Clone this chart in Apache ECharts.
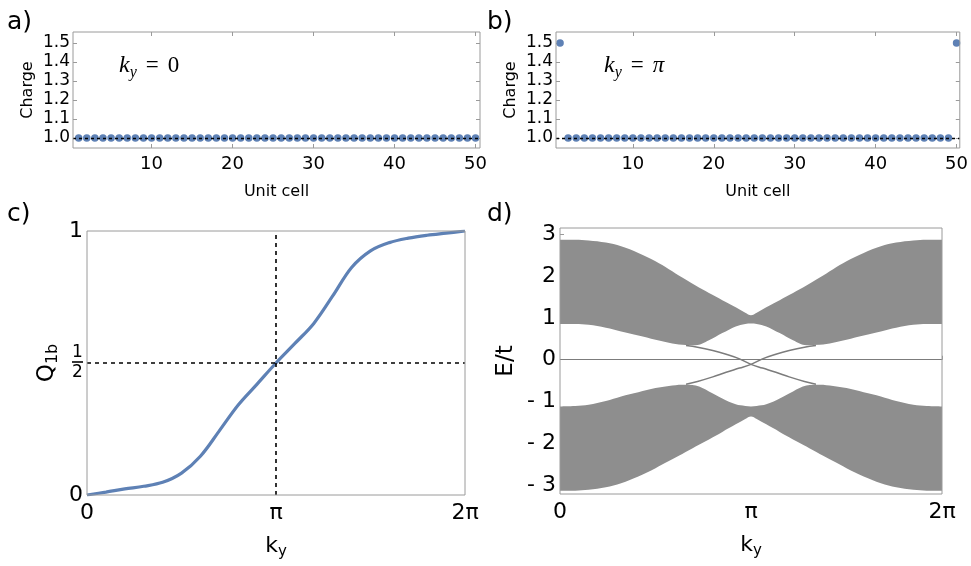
<!DOCTYPE html>
<html>
<head>
<meta charset="utf-8">
<script src="https://cdn.jsdelivr.net/npm/echarts@6.0.0/dist/echarts.min.js"></script>
<style>
  html, body { margin: 0; padding: 0; background: #fff; }
  #chart { width: 971px; height: 566px; }
</style>
</head>
<body>
<div id="chart"></div>
<script>
// --- data ---
// a) / b) charge per unit cell
const cellIndex = [1, 2, 3, 4, 5, 6, 7, 8, 9, 10, 11, 12, 13, 14, 15, 16, 17, 18, 19, 20,
  21, 22, 23, 24, 25, 26, 27, 28, 29, 30, 31, 32, 33, 34, 35, 36, 37, 38, 39, 40,
  41, 42, 43, 44, 45, 46, 47, 48, 49, 50];
const chargeKy0 = [1.0, 1.0, 1.0, 1.0, 1.0, 1.0, 1.0, 1.0, 1.0, 1.0, 1.0, 1.0, 1.0, 1.0, 1.0, 1.0, 1.0, 1.0, 1.0, 1.0,
  1.0, 1.0, 1.0, 1.0, 1.0, 1.0, 1.0, 1.0, 1.0, 1.0, 1.0, 1.0, 1.0, 1.0, 1.0, 1.0, 1.0, 1.0, 1.0, 1.0,
  1.0, 1.0, 1.0, 1.0, 1.0, 1.0, 1.0, 1.0, 1.0, 1.0];
const chargeKyPi = [1.5, 1.0, 1.0, 1.0, 1.0, 1.0, 1.0, 1.0, 1.0, 1.0, 1.0, 1.0, 1.0, 1.0, 1.0, 1.0, 1.0, 1.0, 1.0, 1.0,
  1.0, 1.0, 1.0, 1.0, 1.0, 1.0, 1.0, 1.0, 1.0, 1.0, 1.0, 1.0, 1.0, 1.0, 1.0, 1.0, 1.0, 1.0, 1.0, 1.0,
  1.0, 1.0, 1.0, 1.0, 1.0, 1.0, 1.0, 1.0, 1.0, 1.5];
const chargeTicks = [1.0, 1.1, 1.2, 1.3, 1.4, 1.5];
const cellTicks = [10, 20, 30, 40, 50];

// c) Q_1b vs k_y  (k in units of pi)
const kQ = [0, 0.1, 0.2, 0.3, 0.4, 0.5, 0.6, 0.7, 0.8, 0.9, 1.0,
  1.1, 1.2, 1.3, 1.4, 1.5, 1.6, 1.7, 1.8, 1.9, 2.0];
const q1b = [0, 0.011, 0.023, 0.033, 0.048, 0.083, 0.147, 0.243, 0.341, 0.42, 0.5,
  0.574, 0.65, 0.754, 0.862, 0.925, 0.956, 0.973, 0.984, 0.992, 1.0];
const qTicks = [0, 0.5, 1];
const kTicks = [0, 1, 2];
const kTickLabels = ['0', 'π', '2π'];

// d) spectrum: band envelopes and edge states (k in units of pi)
const kBand = [0, 0.08, 0.15, 0.24, 0.32, 0.41, 0.5, 0.57, 0.64, 0.71, 0.78, 0.85, 0.92, 0.97, 1.0,
  1.03, 1.08, 1.15, 1.22, 1.29, 1.36, 1.43, 1.5, 1.59, 1.68, 1.76, 1.85, 1.92, 2.0];
const upperTop = [2.88, 2.88, 2.86, 2.81, 2.72, 2.56, 2.36, 2.17, 1.97, 1.78, 1.60, 1.43, 1.26, 1.13, 1.07,
  1.13, 1.26, 1.43, 1.60, 1.78, 1.97, 2.17, 2.36, 2.56, 2.72, 2.81, 2.86, 2.88, 2.88];
const upperBottom = [0.86, 0.86, 0.84, 0.77, 0.68, 0.58, 0.48, 0.41, 0.36, 0.35, 0.47, 0.64, 0.80, 0.86, 0.87,
  0.86, 0.80, 0.64, 0.47, 0.35, 0.36, 0.41, 0.48, 0.58, 0.68, 0.77, 0.84, 0.86, 0.86];
const lowerTop = [-1.12, -1.11, -1.08, -0.99, -0.88, -0.78, -0.68, -0.63, -0.60, -0.62, -0.76, -0.93, -1.07, -1.11, -1.12,
  -1.11, -1.07, -0.93, -0.76, -0.62, -0.60, -0.63, -0.68, -0.78, -0.88, -0.99, -1.08, -1.11, -1.12];
const lowerBottom = [-3.14, -3.14, -3.12, -3.06, -2.96, -2.80, -2.60, -2.43, -2.26, -2.08, -1.91, -1.73, -1.55, -1.42, -1.36,
  -1.42, -1.55, -1.73, -1.91, -2.08, -2.26, -2.43, -2.60, -2.80, -2.96, -3.06, -3.12, -3.14, -3.14];
const kEdge = [0.66, 0.72, 0.8, 0.87, 0.94, 1.0, 1.06, 1.13, 1.2, 1.28, 1.34];
const edgeA = [0.34, 0.3, 0.22, 0.13, 0.02, -0.11, -0.2, -0.3, -0.41, -0.52, -0.59];
const edgeB = [-0.59, -0.52, -0.41, -0.3, -0.2, -0.11, 0.02, 0.13, 0.22, 0.3, 0.34];
const energyTicks = [-3, -2, -1, 0, 1, 2, 3];
const energyLabels = ['- 3', '- 2', '- 1', '0', '1', '2', '3'];

// --- styles ---
const FONT = 'DejaVu Sans';
const MATH = 'Liberation Serif';
const FRAME = '#9a9a9a';
const BLUE = '#5e81b5';
const BAND = '#8e8e8e';

const zip = (xs, ys) => xs.map((x, i) => [x, ys[i]]);

// axis that only carries inside ticks (for the mirrored frame sides)
function tickAxis(gridIndex, position, min, max, ticks) {
  return {
    type: 'value', gridIndex, position, min, max,
    axisLine: { show: false }, splitLine: { show: false },
    axisLabel: { show: false },
    axisTick: { inside: true, length: 4, customValues: ticks, lineStyle: { color: FRAME } }
  };
}

function chargeX(gridIndex, min, max) {
  return {
    type: 'value', gridIndex, min, max,
    axisLine: { show: false }, splitLine: { show: false },
    axisTick: { inside: true, length: 4, customValues: cellTicks, lineStyle: { color: FRAME } },
    axisLabel: { customValues: cellTicks, fontSize: 18, fontFamily: FONT, color: '#000', margin: 7 },
    name: 'Unit cell', nameLocation: 'middle', nameGap: 36,
    nameTextStyle: { fontSize: 16, fontFamily: FONT, color: '#000' }
  };
}

function chargeY(gridIndex) {
  return {
    type: 'value', gridIndex, min: 0.947, max: 1.558,
    axisLine: { show: false }, splitLine: { show: false },
    axisTick: { inside: true, length: 4, customValues: chargeTicks, lineStyle: { color: FRAME } },
    axisLabel: {
      customValues: chargeTicks, fontSize: 17, fontFamily: FONT, color: '#000', margin: 3,
      formatter: v => v.toFixed(1)
    },
    name: 'Charge', nameLocation: 'middle', nameGap: 37,
    nameTextStyle: { fontSize: 16, fontFamily: FONT, color: '#000' }
  };
}

const kyName = '{k|k}{s|y}';
const kyRich = {
  k: { fontSize: 22, fontFamily: FONT, color: '#000', lineHeight: 28 },
  s: { fontSize: 15, fontFamily: FONT, color: '#000', lineHeight: 15, verticalAlign: 'bottom' }
};

function kAxis(gridIndex) {
  return {
    type: 'value', gridIndex, min: 0, max: 2,
    axisLine: { show: false }, splitLine: { show: false },
    axisTick: { show: gridIndex === 3, inside: true, length: 4, customValues: kTicks, lineStyle: { color: FRAME } },
    axisLabel: {
      customValues: kTicks, fontSize: 22, fontFamily: FONT, color: '#000', margin: 7,
      formatter: v => kTickLabels[kTicks.indexOf(v)]
    },
    name: kyName, nameLocation: 'middle', nameGap: 37,
    nameTextStyle: { rich: kyRich }
  };
}

const dashed = { color: '#000', type: [4, 4], width: 1.6 };
const markBase = { symbol: ['none', 'none'], silent: true, animation: false, label: { show: false } };

const mathRich = {
  k: { fontFamily: MATH, fontStyle: 'italic', fontSize: 24, color: '#000', lineHeight: 30 },
  y: { fontFamily: MATH, fontStyle: 'italic', fontSize: 16, color: '#000', lineHeight: 16, verticalAlign: 'bottom' },
  e: { fontFamily: MATH, fontSize: 23, color: '#000', lineHeight: 30, padding: [0, 9, 0, 9] },
  z: { fontFamily: MATH, fontSize: 23, color: '#000', lineHeight: 30 },
  p: { fontFamily: MATH, fontStyle: 'italic', fontSize: 23, color: '#000', lineHeight: 30 }
};

const option = {
  animation: false,
  backgroundColor: '#fff',
  grid: [
    { left: 73, top: 32, width: 407, height: 116, show: true, borderColor: FRAME, borderWidth: 1, z: 10 },
    { left: 556, top: 32, width: 404, height: 116, show: true, borderColor: FRAME, borderWidth: 1, z: 10 },
    { left: 87, top: 231, width: 378, height: 264, show: true, borderColor: FRAME, borderWidth: 1, z: 10 },
    { left: 560, top: 228, width: 382, height: 266, show: true, borderColor: FRAME, borderWidth: 1, z: 10 }
  ],
  xAxis: [
    chargeX(0, 0.3, 50.55),
    tickAxis(0, 'top', 0.3, 50.55, cellTicks),
    chargeX(1, 0.5, 50.4),
    tickAxis(1, 'top', 0.5, 50.4, cellTicks),
    kAxis(2),
    kAxis(3)
  ],
  yAxis: [
    chargeY(0),
    tickAxis(0, 'right', 0.947, 1.558, chargeTicks),
    chargeY(1),
    tickAxis(1, 'right', 0.947, 1.558, chargeTicks),
    {
      type: 'value', gridIndex: 2, min: 0, max: 1,
      axisLine: { show: false }, splitLine: { show: false }, axisTick: { show: false },
      axisLabel: {
        customValues: qTicks, fontSize: 22, fontFamily: FONT, color: '#000', margin: 4,
        formatter: v => (Math.abs(v - 0.5) < 1e-9 ? '{n|1}\n{bar| }\n{d|2}' : String(v)),
        rich: {
          n: { fontSize: 17, fontFamily: FONT, color: '#000', lineHeight: 15, align: 'center' },
          bar: { width: 11, height: 1.6, lineHeight: 4, fontSize: 2, backgroundColor: '#000', align: 'center' },
          d: { fontSize: 17, fontFamily: FONT, color: '#000', lineHeight: 17, align: 'center' }
        }
      },
      name: '{q|Q}{s|1b}', nameLocation: 'middle', nameGap: 26,
      nameTextStyle: {
        rich: {
          q: { fontSize: 23, fontFamily: FONT, color: '#000', lineHeight: 28 },
          s: { fontSize: 16, fontFamily: FONT, color: '#000', lineHeight: 16, verticalAlign: 'bottom' }
        }
      }
    },
    {
      type: 'value', gridIndex: 3, min: -3.22, max: 3.16,
      axisLine: { show: false }, splitLine: { show: false },
      axisTick: { inside: true, length: 4, customValues: energyTicks, lineStyle: { color: FRAME } },
      axisLabel: {
        customValues: energyTicks, fontSize: 22, fontFamily: FONT, color: '#000', margin: 4,
        formatter: v => energyLabels[energyTicks.indexOf(v)]
      },
      name: 'E/t', nameLocation: 'middle', nameGap: 42,
      nameTextStyle: { fontSize: 23, fontFamily: FONT, color: '#000' }
    }
  ],
  series: [
    // a)
    {
      type: 'line', xAxisIndex: 0, yAxisIndex: 0, data: [], z: 1,
      markLine: Object.assign({ lineStyle: { color: '#000', type: [3, 3], width: 1.4 }, data: [{ yAxis: 1 }] }, markBase)
    },
    {
      type: 'scatter', xAxisIndex: 0, yAxisIndex: 0, z: 3,
      data: zip(cellIndex, chargeKy0), symbolSize: 7.5, itemStyle: { color: BLUE, opacity: 1 }
    },
    // b)
    {
      type: 'line', xAxisIndex: 2, yAxisIndex: 2, data: [], z: 1,
      markLine: Object.assign({ lineStyle: { color: '#000', type: [3, 3], width: 1.4 }, data: [{ yAxis: 1 }] }, markBase)
    },
    {
      type: 'scatter', xAxisIndex: 2, yAxisIndex: 2, z: 3,
      data: zip(cellIndex, chargeKyPi), symbolSize: 7.5, itemStyle: { color: BLUE, opacity: 1 }
    },
    // c)
    {
      type: 'line', xAxisIndex: 4, yAxisIndex: 4, data: [], z: 1,
      markLine: Object.assign({ lineStyle: dashed, data: [{ xAxis: 1 }, { yAxis: 0.5 }] }, markBase)
    },
    {
      type: 'line', xAxisIndex: 4, yAxisIndex: 4, z: 3,
      data: zip(kQ, q1b), smooth: 0.35, symbol: 'none',
      lineStyle: { color: BLUE, width: 3.2 }
    },
    // d) bands: grey fill under each top edge, white fill under each bottom edge
    {
      type: 'line', xAxisIndex: 5, yAxisIndex: 5, z: 2, data: zip(kBand, upperTop), smooth: 0.35, symbol: 'none',
      lineStyle: { width: 0 }, areaStyle: { color: BAND, opacity: 1, origin: 'start' }
    },
    {
      type: 'line', xAxisIndex: 5, yAxisIndex: 5, z: 3, data: zip(kBand, upperBottom), smooth: 0.35, symbol: 'none',
      lineStyle: { width: 0 }, areaStyle: { color: '#fff', opacity: 1, origin: 'start' }
    },
    {
      type: 'line', xAxisIndex: 5, yAxisIndex: 5, z: 4, data: zip(kBand, lowerTop), smooth: 0.35, symbol: 'none',
      lineStyle: { width: 0 }, areaStyle: { color: BAND, opacity: 1, origin: 'start' }
    },
    {
      type: 'line', xAxisIndex: 5, yAxisIndex: 5, z: 5, data: zip(kBand, lowerBottom), smooth: 0.35, symbol: 'none',
      lineStyle: { width: 0 }, areaStyle: { color: '#fff', opacity: 1, origin: 'start' }
    },
    {
      type: 'line', xAxisIndex: 5, yAxisIndex: 5, z: 6, data: zip(kEdge, edgeA), smooth: 0.4, symbol: 'none',
      lineStyle: { color: '#7c7c7c', width: 1.5 },
      markLine: Object.assign({ lineStyle: { color: '#7c7c7c', type: 'solid', width: 1.2 }, data: [{ yAxis: 0 }] }, markBase)
    },
    {
      type: 'line', xAxisIndex: 5, yAxisIndex: 5, z: 6, data: zip(kEdge, edgeB), smooth: 0.4, symbol: 'none',
      lineStyle: { color: '#7c7c7c', width: 1.5 }
    }
  ],
  graphic: [
    { type: 'text', x: 7, y: 22, style: { text: 'a)', font: '25px "DejaVu Sans"', fill: '#000', verticalAlign: 'middle' } },
    { type: 'text', x: 487, y: 22, style: { text: 'b)', font: '25px "DejaVu Sans"', fill: '#000', verticalAlign: 'middle' } },
    { type: 'text', x: 7, y: 214, style: { text: 'c)', font: '25px "DejaVu Sans"', fill: '#000', verticalAlign: 'middle' } },
    { type: 'text', x: 487, y: 214, style: { text: 'd)', font: '25px "DejaVu Sans"', fill: '#000', verticalAlign: 'middle' } },
    { type: 'text', x: 119, y: 66, style: { text: '{k|k}{y|y}{e|=}{z|0}', rich: mathRich, verticalAlign: 'middle' } },
    { type: 'text', x: 604, y: 66, style: { text: '{k|k}{y|y}{e|=}{p|π}', rich: mathRich, verticalAlign: 'middle' } }
  ]
};

const chart = echarts.init(document.getElementById('chart'), null, { renderer: 'canvas' });
chart.setOption(option);
window.addEventListener('resize', () => chart.resize());
</script>
</body>
</html>
